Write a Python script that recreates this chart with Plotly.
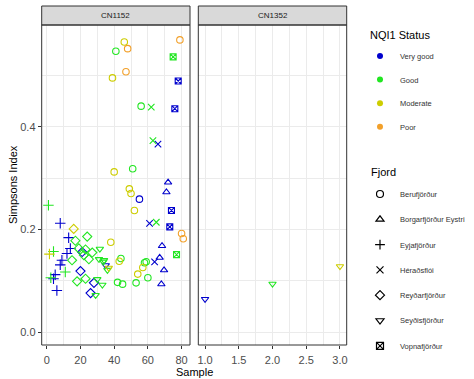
import plotly.graph_objects as go

# ---------------- data ----------------
panels = (["CN1152"] * 26 + ["CN1152"] * 6 + ["CN1152"] * 14 + ["CN1152"] * 6
          + ["CN1152"] * 15 + ["CN1152"] * 10 + ["CN1152"] * 6 + ["CN1352"] * 3)

fjords = (["Berufjörður"] * 26 + ["Borgarfjörður Eystri"] * 6 + ["Eyjafjörður"] * 14
          + ["Héraðsflói"] * 6 + ["Reyðarfjörður"] * 15 + ["Seyðisfjörður"] * 10
          + ["Vopnafjörður"] * 6 + ["Seyðisfjörður"] * 3)

samples = [
    # Berufjörður
    79, 46, 48, 41, 47, 39, 56, 51, 40, 49, 50, 55, 52, 80, 81, 38, 43, 44, 58, 59, 57, 54, 60, 42, 45, 53,
    # Borgarfjörður Eystri
    72, 71, 68.4, 67, 69.6, 68,
    # Eyjafjörður
    1, 4, 11, 2.4, 1.6, 8, 13, 14, 12, 9, 8, 5, 4, 6,
    # Héraðsflói
    62, 63, 65, 66, 61, 64,
    # Reyðarfjörður
    16, 24, 17, 19, 23, 27, 15, 25, 18, 23, 21, 20, 28, 26, 22,
    # Seyðisfjörður
    31.5, 31, 33.5, 30, 33, 29, 36, 35, 36.8, 34,
    # Vopnafjörður
    75, 77, 78, 76, 74, 73,
    # CN1352
    1, 2, 3,
]

simpson = [
    0.569, 0.565, 0.552, 0.547, 0.507, 0.495, 0.440, 0.318, 0.312, 0.279, 0.270, 0.259, 0.237,
    0.192, 0.182, 0.175, 0.138, 0.1435, 0.135, 0.137, 0.126, 0.113, 0.106, 0.097, 0.0935, 0.096,
    0.2915, 0.2726, 0.168, 0.145, 0.1207, 0.0935,
    0.247, 0.157, 0.117, 0.106, 0.152, 0.212, 0.184, 0.163, 0.153, 0.140, 0.131, 0.112, 0.104, 0.081,
    0.438, 0.373, 0.214, 0.366, 0.212, 0.137,
    0.201, 0.186, 0.178, 0.163, 0.161, 0.155, 0.140, 0.142, 0.099, 0.104, 0.156, 0.119, 0.096, 0.076, 0.150,
    0.162, 0.142, 0.137, 0.103, 0.092, 0.072, 0.121, 0.130, 0.125, 0.140,
    0.536, 0.151, 0.489, 0.435, 0.237, 0.205,
    0.0643, 0.094, 0.128,
]

status = [
    "Poor", "Moderate", "Poor", "Good", "Poor", "Moderate", "Good", "Good", "Moderate", "Moderate",
    "Moderate", "Very good", "Moderate", "Poor", "Poor", "Moderate", "Moderate", "Good", "Good", "Good",
    "Moderate", "Moderate", "Good", "Good", "Good", "Good",
    "Very good", "Very good", "Very good", "Very good", "Very good", "Very good",
    "Good", "Good", "Good", "Good", "Moderate", "Very good", "Very good", "Very good", "Very good",
    "Very good", "Very good", "Very good", "Very good", "Very good",
    "Good", "Good", "Good", "Very good", "Very good", "Very good",
    "Moderate", "Good", "Good", "Good", "Good", "Good", "Good", "Good", "Good", "Good",
    "Very good", "Very good", "Very good", "Very good", "Good",
    "Good", "Good", "Good", "Good", "Good", "Good", "Good", "Very good", "Moderate", "Good",
    "Good", "Good", "Very good", "Very good", "Very good", "Very good",
    "Very good", "Good", "Moderate",
]

status_levels = ["Very good", "Good", "Moderate", "Poor"]
status_colors = ["#0000CD", "#22E622", "#CDCD00", "#F2A02A"]
fjord_levels = ["Berufjörður", "Borgarfjörður Eystri", "Eyjafjörður", "Héraðsflói",
                "Reyðarfjörður", "Seyðisfjörður", "Vopnafjörður"]
fjord_symbols = ["circle-open", "triangle-up-open", "cross-thin-open", "x-thin-open",
                 "diamond-open", "triangle-down-open", "square-x-open"]
panel_levels = ["CN1152", "CN1352"]
legend_titles = ["NQI1 Status", "Fjord"]

W, H = 474, 379
FONT = "Liberation Sans, Arial, sans-serif"

fig = go.Figure()

cmap = dict(zip(status_levels, status_colors))
smap = dict(zip(fjord_levels, fjord_symbols))
size_map = {"circle-open": 6.5, "triangle-up-open": 6.5, "cross-thin-open": 7.5, "x-thin-open": 6.5,
            "diamond-open": 7, "triangle-down-open": 6.5, "square-x-open": 6}

for pi, pan in enumerate(panel_levels):
    for f in fjord_levels:
        for st in status_levels:
            idx = [i for i in range(len(samples)) if panels[i] == pan and fjords[i] == f and status[i] == st]
            if not idx:
                continue
            sym = smap[f]
            fig.add_trace(go.Scatter(
                x=[samples[i] for i in idx], y=[simpson[i] for i in idx], mode="markers",
                xaxis="x" if pi == 0 else "x2", yaxis="y" if pi == 0 else "y2",
                marker=dict(symbol=sym, size=size_map[sym],
                            color=cmap[st], line=dict(color=cmap[st], width=1.1)),
                showlegend=False, hoverinfo="x+y",
            ))

# legend entries: status colours
for k, (st, col) in enumerate(zip(status_levels, status_colors)):
    fig.add_trace(go.Scatter(
        x=[None], y=[None], mode="markers", name=st, legend="legend",
        legendgroup="s" + str(k),
        marker=dict(symbol="circle", size=6, color=col), showlegend=True,
    ))
# legend entries: fjord shapes
for k, (f, sym) in enumerate(zip(fjord_levels, fjord_symbols)):
    fig.add_trace(go.Scatter(
        x=[None], y=[None], mode="markers", name=f, legend="legend2",
        legendgroup="f" + str(k),
        marker=dict(symbol=sym, size=7, color="black", line=dict(color="black", width=1.2)),
        showlegend=True,
    ))

# geometry (pixels)
L1, R1 = 41.7, 190.0
L2, R2 = 198.3, 346.7
TOP, BOT = 25.0, 345.0
STRIP_TOP = 6.0

def px(xp):
    return xp / W

def py(yp):
    return 1 - yp / H

grid = "#EBEBEB"
axis_common = dict(showline=False, zeroline=False, ticks="outside", ticklen=3,
                   tickcolor="#333333", tickwidth=1,
                   tickfont=dict(family=FONT, size=11, color="#4D4D4D"),
                   showgrid=True, gridcolor=grid, gridwidth=1)

fig.update_layout(
    width=W, height=H,
    margin=dict(l=0, r=0, t=0, b=0, autoexpand=False),
    paper_bgcolor="white", plot_bgcolor="white",
    font=dict(family=FONT),
    xaxis=dict(domain=[px(L1), px(R1)], range=[-3, 85], tickmode="linear", tick0=0, dtick=20,
               ticklabelstandoff=2,
               minor=dict(dtick=10, showgrid=True, gridcolor=grid, gridwidth=0.6), anchor="y",
               **axis_common),
    xaxis2=dict(domain=[px(L2), px(R2)], range=[0.9, 3.1], tickmode="linear", tick0=1, dtick=0.5,
                tickformat=".1f", ticklabelstandoff=2,
                minor=dict(dtick=0.25, showgrid=True, gridcolor=grid, gridwidth=0.6), anchor="y2",
                **axis_common),
    yaxis=dict(domain=[py(BOT), py(TOP)], range=[-0.025, 0.598], tickmode="linear", tick0=0, dtick=0.2,
               tickformat=".1f",
               minor=dict(dtick=0.1, showgrid=True, gridcolor=grid, gridwidth=0.6), anchor="x",
               **axis_common),
    yaxis2=dict(domain=[py(BOT), py(TOP)], range=[-0.025, 0.598], tickmode="linear", tick0=0, dtick=0.2,
                minor=dict(dtick=0.1, showgrid=True, gridcolor=grid, gridwidth=0.6), anchor="x2",
                showticklabels=False, showline=False, zeroline=False, ticks="",
                showgrid=True, gridcolor=grid, gridwidth=1),
    legend=dict(x=px(360), y=py(41.5), xanchor="left", yanchor="top",
                font=dict(family=FONT, size=7.5, color="#333333"),
                tracegroupgap=4.6, bgcolor="rgba(0,0,0,0)", itemclick=False),
    legend2=dict(x=px(360), y=py(179.5), xanchor="left", yanchor="top",
                 font=dict(family=FONT, size=7.5, color="#333333"),
                 tracegroupgap=6.3, bgcolor="rgba(0,0,0,0)", itemclick=False),
)

shapes = []
annotations = []
for (l, r), name in zip([(L1, R1), (L2, R2)], panel_levels):
    shapes.append(dict(type="rect", xref="paper", yref="paper",
                       x0=px(l), x1=px(r), y0=py(TOP), y1=py(STRIP_TOP),
                       fillcolor="#D9D9D9", line=dict(color="#333333", width=1), layer="above"))
    shapes.append(dict(type="rect", xref="paper", yref="paper",
                       x0=px(l), x1=px(r), y0=py(BOT), y1=py(TOP),
                       fillcolor="rgba(0,0,0,0)", line=dict(color="#333333", width=1), layer="above"))
    annotations.append(dict(text=name, xref="paper", yref="paper", x=px((l + r) / 2),
                            y=py((TOP + STRIP_TOP) / 2), showarrow=False, xanchor="center",
                            yanchor="middle", font=dict(family=FONT, size=8, color="#1A1A1A")))

for title, (tx, ty) in zip(legend_titles, [(368, 35), (369, 172)]):
    annotations.append(dict(text=title, xref="paper", yref="paper", x=px(tx), y=py(ty),
                            showarrow=False, xanchor="left", yanchor="middle",
                            font=dict(family=FONT, size=11, color="black")))

annotations.append(dict(text="Sample", xref="paper", yref="paper", x=px((L1 + R2) / 2), y=py(371.5),
                        showarrow=False, xanchor="center", yanchor="middle",
                        font=dict(family=FONT, size=11, color="black")))
annotations.append(dict(text="Simpsons Index", xref="paper", yref="paper", x=px(13), y=py((TOP + BOT) / 2),
                        showarrow=False, xanchor="center", yanchor="middle", textangle=-90,
                        font=dict(family=FONT, size=11, color="black")))

fig.update_layout(shapes=shapes, annotations=annotations)

fig.write_html("out.html", config={"displayModeBar": False},
               post_script="document.body.style.margin='0';document.body.style.overflow='hidden';")
